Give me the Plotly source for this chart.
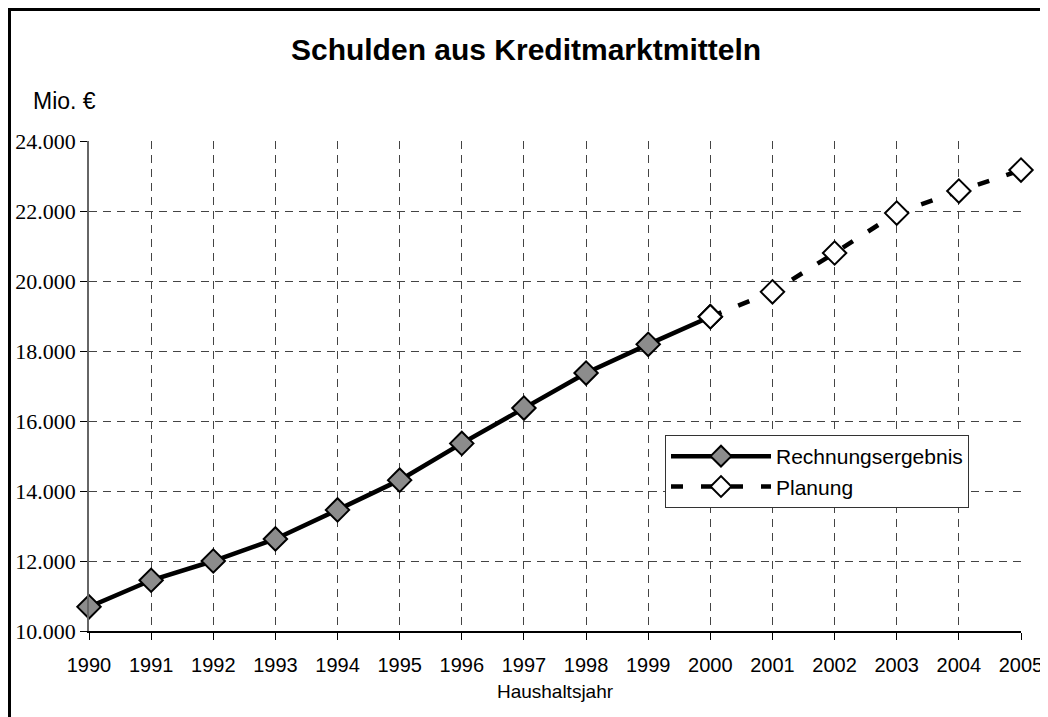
import plotly.graph_objects as go

years_actual = [1990, 1991, 1992, 1993, 1994, 1995, 1996, 1997, 1998, 1999, 2000]
values_actual = [10690, 11450, 12000, 12630, 13460, 14310, 15360, 16370, 17370, 18190, 18980]
years_plan = [2000, 2001, 2002, 2003, 2004, 2005]
values_plan = [18980, 19690, 20800, 21940, 22570, 23170]
x_ticks = list(range(1990, 2006))
y_ticks = [10000, 12000, 14000, 16000, 18000, 20000, 22000, 24000]

# page body has an 8px margin, so the figure is placed at (8, 8)
OFF = 8
W, H = 1048 - OFF, 717 - OFF
L, T = 89 - OFF, 141 - OFF
PR, PB = 1021 - OFF, 631 - OFF
R, B = W - PR, H - PB
pw, ph = PR - L, PB - T

def px(xp):
    return (xp - OFF - L) / pw

def py(yp):
    return (PB - (yp - OFF)) / ph

fig = go.Figure()
fig.add_trace(go.Scatter(
    x=years_actual, y=values_actual, mode="lines+markers", name="Rechnungsergebnis",
    line=dict(color="black", width=4.5),
    marker=dict(symbol="diamond", size=18, color="#8c8c8c", line=dict(color="black", width=2)),
    cliponaxis=False,
))
fig.add_trace(go.Scatter(
    x=years_plan, y=values_plan, mode="lines+markers", name="Planung",
    line=dict(color="black", width=4.5, dash="12px,18px"),
    marker=dict(symbol="diamond", size=18, color="white", line=dict(color="black", width=2)),
    cliponaxis=False,
))

fig.update_layout(
    width=W, height=H,
    margin=dict(l=L, r=R, t=T, b=B, autoexpand=False),
    paper_bgcolor="white", plot_bgcolor="white",
    separators=",.",
    font=dict(family="Liberation Sans", color="black"),
    title=dict(text="<b>Schulden aus Kreditmarktmitteln</b>", x=(526 - OFF) / W, xanchor="center",
               y=1 - (49 - OFF) / H, yanchor="middle", font=dict(size=30)),
    showlegend=True,
    legend=dict(
        x=px(665), y=py(435), xanchor="left", yanchor="top",
        bgcolor="white", bordercolor="#333333", borderwidth=1,
        font=dict(size=21), itemwidth=100, tracegroupgap=4,
    ),
    xaxis=dict(
        range=[1990, 2005], tickmode="array", tickvals=x_ticks,
        showgrid=True, gridcolor="#444444", griddash="8px,6px", gridwidth=1,
        showline=True, linecolor="black", linewidth=1.5,
        ticks="outside", ticklen=7, tickcolor="black",
        tickfont=dict(size=20, family="Liberation Sans"),
        ticklabelstandoff=8,
        title=dict(text="Haushaltsjahr", font=dict(size=19), standoff=10),
        zeroline=False,
    ),
    yaxis=dict(
        range=[10000, 24000], tickmode="array", tickvals=y_ticks,
        tickformat=",d",
        showgrid=True, gridcolor="#444444", griddash="8px,6px", gridwidth=1,
        showline=True, linecolor="#666666", linewidth=1.5,
        ticks="outside", ticklen=7, tickcolor="black",
        tickfont=dict(size=22, family="Liberation Serif"),
        zeroline=False,
    ),
    annotations=[dict(
        text="Mio. €", xref="paper", yref="paper", x=px(31), y=py(101),
        xanchor="left", yanchor="middle", showarrow=False, font=dict(size=23),
    )],
    shapes=[dict(
        type="rect", xref="paper", yref="paper",
        x0=px(9.5), x1=px(1070), y0=py(9.5), y1=py(740),
        line=dict(color="black", width=3), fillcolor="rgba(0,0,0,0)", layer="above",
    )],
)

fig.write_html("out.html")
